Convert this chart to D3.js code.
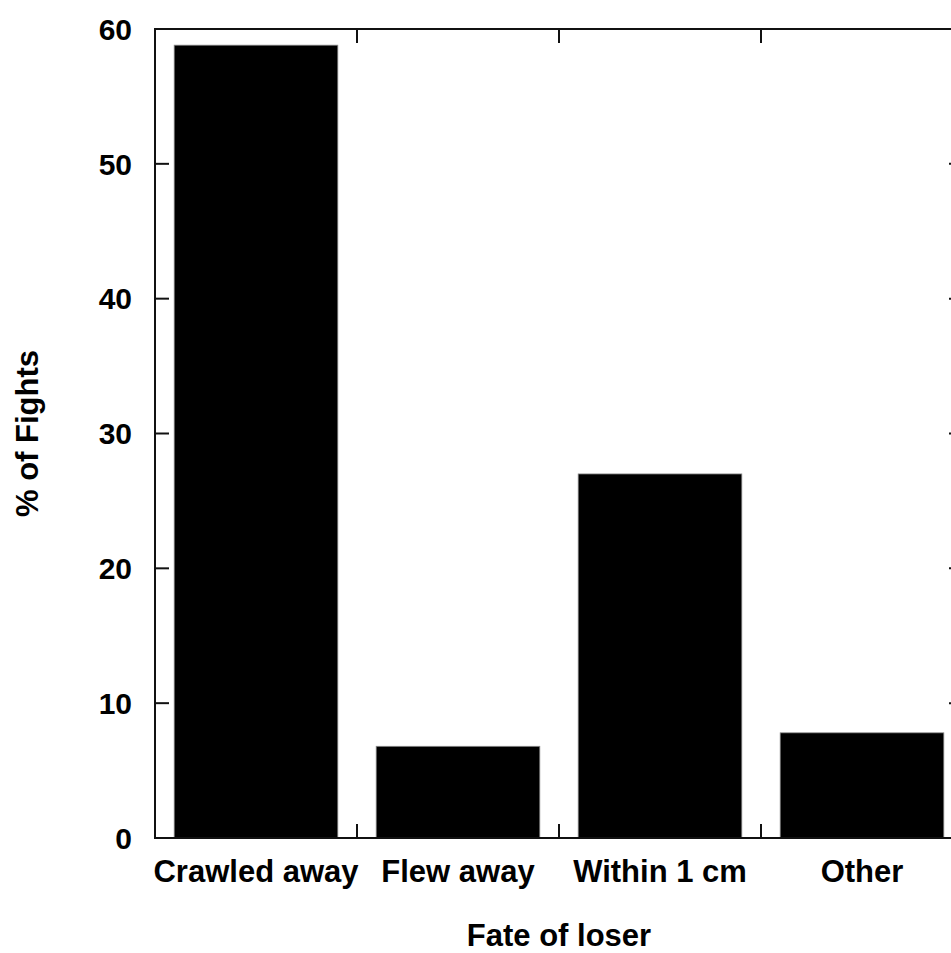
<!DOCTYPE html>
<html>
<head>
<meta charset="utf-8">
<script src="https://cdn.jsdelivr.net/npm/d3@7"></script>
<style>
  body { margin: 0; background: #fff; }
  svg text { font-family: "Liberation Sans", Arial, sans-serif; font-weight: bold; fill: #000; }
</style>
</head>
<body>
<div id="chart"></div>
<script>
// data
var categories = ["Crawled away", "Flew away", "Within 1 cm", "Other"];
var percent = [58.8, 6.8, 27.0, 7.8];
var yTicks = [0, 10, 20, 30, 40, 50, 60];

var W = 951, H = 953;
var plotLeft = 155, plotRight = 963, plotTop = 29, plotBottom = 838;
var tickLen = 14;

var svg = d3.select("#chart").append("svg")
	.attr("width", W).attr("height", H);

var x = d3.scaleBand()
	.domain(categories)
	.range([plotLeft, plotRight])
	.paddingInner(0.19)
	.paddingOuter(0.095);

var y = d3.scaleLinear().domain([0, 60]).range([plotBottom, plotTop]);

// bars
svg.append("g").selectAll("rect")
	.data(percent)
	.join("rect")
	.attr("x", (d, i) => x(categories[i]))
	.attr("width", x.bandwidth())
	.attr("y", d => y(d))
	.attr("height", d => y(0) - y(d))
	.attr("fill", "#000")
	.attr("stroke", "#888")
	.attr("stroke-width", 0.8);

// frame
svg.append("rect")
	.attr("x", plotLeft).attr("y", plotTop)
	.attr("width", plotRight - plotLeft).attr("height", plotBottom - plotTop)
	.attr("fill", "none").attr("stroke", "#111").attr("stroke-width", 2);

// y ticks on left and right, inward
var yt = svg.append("g");
yTicks.forEach(function(t){
	yt.append("line").attr("x1", plotLeft).attr("x2", plotLeft + tickLen)
		.attr("y1", y(t)).attr("y2", y(t)).attr("stroke", "#111").attr("stroke-width", 2);
	yt.append("line").attr("x1", plotRight).attr("x2", plotRight - tickLen)
		.attr("y1", y(t)).attr("y2", y(t)).attr("stroke", "#111").attr("stroke-width", 2);
	yt.append("text")
		.attr("x", plotLeft - 23).attr("y", y(t))
		.attr("dy", "0.36em")
		.attr("text-anchor", "end")
		.attr("font-size", 30)
		.text(t);
});

// x ticks at the band boundaries, top and bottom
var step = x.step();
var xt = svg.append("g");
for (var i = 1; i < categories.length; i++) {
	var bx = plotLeft + step * i;
	xt.append("line").attr("x1", bx).attr("x2", bx)
		.attr("y1", plotBottom).attr("y2", plotBottom - tickLen).attr("stroke", "#111").attr("stroke-width", 2);
	xt.append("line").attr("x1", bx).attr("x2", bx)
		.attr("y1", plotTop).attr("y2", plotTop + tickLen).attr("stroke", "#111").attr("stroke-width", 2);
}

// category labels
svg.append("g").selectAll("text")
	.data(categories)
	.join("text")
	.attr("x", d => x(d) + x.bandwidth() / 2)
	.attr("y", 882)
	.attr("text-anchor", "middle")
	.attr("font-size", 31)
	.text(d => d);

// axis titles
svg.append("text")
	.attr("x", (plotLeft + plotRight) / 2).attr("y", 946)
	.attr("text-anchor", "middle")
	.attr("font-size", 31)
	.text("Fate of loser");

svg.append("text")
	.attr("transform", "translate(38," + ((plotTop + plotBottom) / 2) + ") rotate(-90)")
	.attr("text-anchor", "middle")
	.attr("font-size", 31)
	.text("% of Fights");
</script>
</body>
</html>
